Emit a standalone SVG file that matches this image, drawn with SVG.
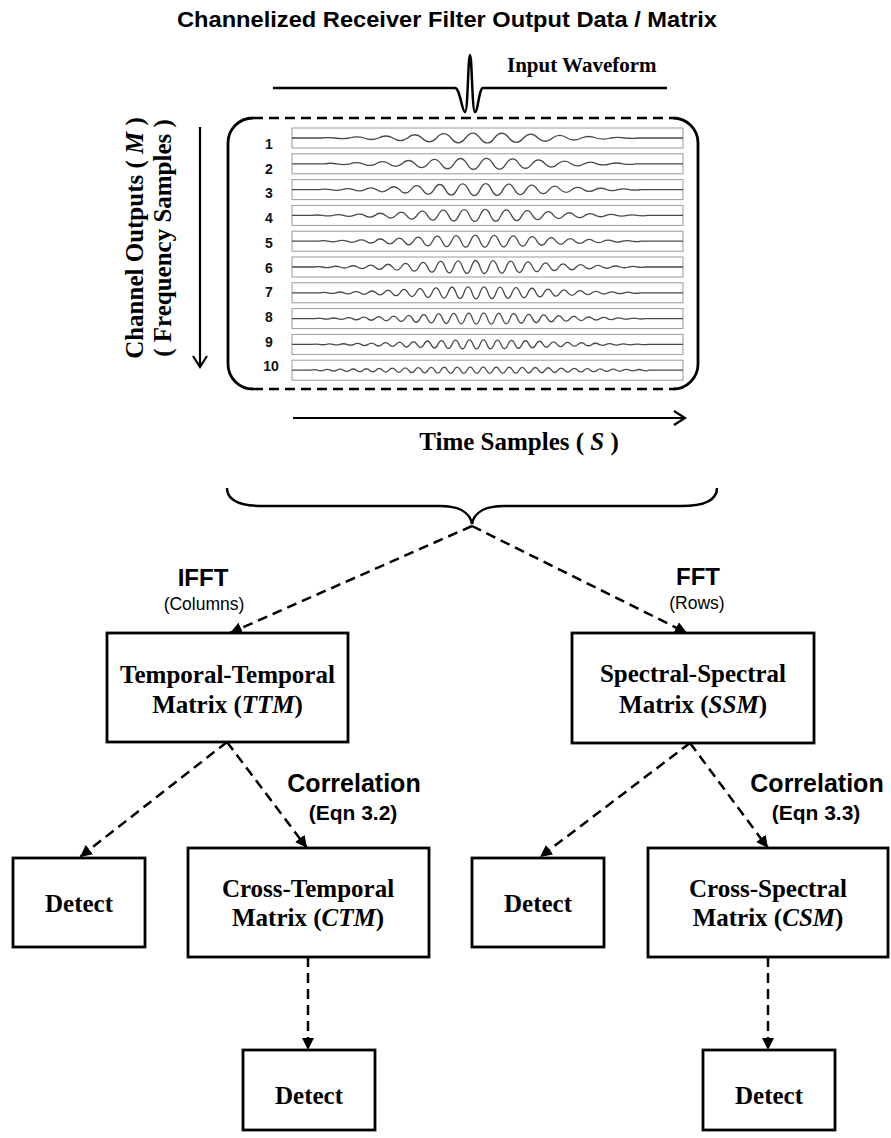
<svg xmlns="http://www.w3.org/2000/svg" width="891" height="1138" viewBox="0 0 891 1138">
<style>
.sans{font-family:"Liberation Sans",Arial,sans-serif;font-weight:bold;fill:#000}
.sansr{font-family:"Liberation Sans",Arial,sans-serif;font-weight:normal;fill:#000}
.serif{font-family:"Liberation Serif","Times New Roman",serif;font-weight:bold;fill:#000}
.box{fill:#fff;stroke:#000;stroke-width:2.8}
.dash{fill:none;stroke:#000;stroke-width:2.5;stroke-dasharray:10,6}
.row{fill:#fff;stroke:#9a9a9a;stroke-width:1}
.wave{fill:none;stroke:#4a4a4a;stroke-width:1.3}
.lbl{font-family:"Liberation Sans",Arial,sans-serif;font-weight:bold;font-size:14px;fill:#111;text-anchor:middle}
.c{text-anchor:middle}
</style>
<defs>
<marker id="ah" markerUnits="userSpaceOnUse" markerWidth="14" markerHeight="12" refX="12" refY="6" orient="auto"><path d="M0,0 L12,6 L0,12 z" fill="#000"/></marker>
<marker id="ch" markerUnits="userSpaceOnUse" markerWidth="16" markerHeight="16" refX="13" refY="8" orient="auto"><path d="M2,1 L13,8 L2,15" fill="none" stroke="#000" stroke-width="2.2"/></marker>
</defs>
<rect width="891" height="1138" fill="#fff"/>

<text id="title" class="sans c" x="447" y="27" font-size="22" textLength="540" lengthAdjust="spacingAndGlyphs">Channelized Receiver Filter Output Data / Matrix</text>

<g id="input-waveform">
<path d="M273,88 H455 C460,88 462,112 465,112 C468,112 468,55 470,55 C472,55 472,112 475,112 C478,112 479,88 483,88 H667" fill="none" stroke="#000" stroke-width="2.5"/>
<text class="serif" x="507" y="72" font-size="21">Input Waveform</text>
</g>

<g id="matrix">
<path d="M253,118 A25,25 0 0 0 228,143 V364 A25,25 0 0 0 253,389 M673,118 A25,25 0 0 1 698,143 V364 A25,25 0 0 1 673,389" fill="none" stroke="#000" stroke-width="2.8"/>
<path d="M253,118 H673 M253,389 H673" class="dash" stroke-width="2.8"/>
<rect class="row" x="292" y="128" width="391" height="20"/>
<rect class="row" x="292" y="153.8" width="391" height="20"/>
<rect class="row" x="292" y="179.6" width="391" height="20"/>
<rect class="row" x="292" y="205.4" width="391" height="20"/>
<rect class="row" x="292" y="231.2" width="391" height="20"/>
<rect class="row" x="292" y="257" width="391" height="20"/>
<rect class="row" x="292" y="282.8" width="391" height="20"/>
<rect class="row" x="292" y="308.6" width="391" height="20"/>
<rect class="row" x="292" y="334.4" width="391" height="20"/>
<rect class="row" x="292" y="360.2" width="391" height="20"/>
<text class="lbl" x="269" y="149">1</text>
<text class="lbl" x="269" y="173.7">2</text>
<text class="lbl" x="269" y="198.4">3</text>
<text class="lbl" x="269" y="223.1">4</text>
<text class="lbl" x="269" y="247.8">5</text>
<text class="lbl" x="269" y="272.5">6</text>
<text class="lbl" x="269" y="297.2">7</text>
<text class="lbl" x="269" y="321.9">8</text>
<text class="lbl" x="269" y="346.6">9</text>
<text class="lbl" x="271" y="371.3">10</text>
<path class="wave" d="M292,138 H320.5 q7.25,-0.9 14.5,0 q7.25,1.4 14.5,0 q7.25,-2.1 14.5,0 q7.25,3 14.5,0 q7.25,-4 14.5,0 q7.25,5.2 14.5,0 q7.25,-6.5 14.5,0 q7.25,7.7 14.5,0 q7.25,-8.7 14.5,0 q7.25,9.5 14.5,0 q7.25,-9.9 14.5,0 q7.25,9.9 14.5,0 q7.25,-9.5 14.5,0 q7.25,8.7 14.5,0 q7.25,-7.7 14.5,0 q7.25,6.5 14.5,0 q7.25,-5.2 14.5,0 q7.25,4 14.5,0 q7.25,-3 14.5,0 q7.25,2.1 14.5,0 q7.25,-1.4 14.5,0 q7.25,0.9 14.5,0 H683"/>
<path class="wave" d="M292,163.8 H324 q6.5,-1.1 13,0 q6.5,1.6 13,0 q6.5,-2.3 13,0 q6.5,3.2 13,0 q6.5,-4.2 13,0 q6.5,5.3 13,0 q6.5,-6.5 13,0 q6.5,7.8 13,0 q6.5,-8.9 13,0 q6.5,9.9 13,0 q6.5,-10.6 13,0 q6.5,11 13,0 q6.5,-11 13,0 q6.5,10.6 13,0 q6.5,-9.9 13,0 q6.5,8.9 13,0 q6.5,-7.8 13,0 q6.5,6.5 13,0 q6.5,-5.3 13,0 q6.5,4.2 13,0 q6.5,-3.2 13,0 q6.5,2.3 13,0 q6.5,-1.6 13,0 q6.5,1.1 13,0 H683"/>
<path class="wave" d="M292,189.6 H319 q5.75,-1 11.5,0 q5.75,1.5 11.5,0 q5.75,-2 11.5,0 q5.75,2.7 11.5,0 q5.75,-3.6 11.5,0 q5.75,4.5 11.5,0 q5.75,-5.6 11.5,0 q5.75,6.8 11.5,0 q5.75,-8 11.5,0 q5.75,9.1 11.5,0 q5.75,-10.2 11.5,0 q5.75,11 11.5,0 q5.75,-11.6 11.5,0 q5.75,12 11.5,0 q5.75,-12 11.5,0 q5.75,11.6 11.5,0 q5.75,-11 11.5,0 q5.75,10.2 11.5,0 q5.75,-9.1 11.5,0 q5.75,8 11.5,0 q5.75,-6.8 11.5,0 q5.75,5.6 11.5,0 q5.75,-4.5 11.5,0 q5.75,3.6 11.5,0 q5.75,-2.7 11.5,0 q5.75,2 11.5,0 q5.75,-1.5 11.5,0 q5.75,1 11.5,0 H683"/>
<path class="wave" d="M292,215.4 H312 q5.25,-0.8 10.5,0 q5.25,1.1 10.5,0 q5.25,-1.5 10.5,0 q5.25,2.1 10.5,0 q5.25,-2.7 10.5,0 q5.25,3.5 10.5,0 q5.25,-4.3 10.5,0 q5.25,5.3 10.5,0 q5.25,-6.4 10.5,0 q5.25,7.5 10.5,0 q5.25,-8.5 10.5,0 q5.25,9.6 10.5,0 q5.25,-10.5 10.5,0 q5.25,11.2 10.5,0 q5.25,-11.7 10.5,0 q5.25,12 10.5,0 q5.25,-12 10.5,0 q5.25,11.7 10.5,0 q5.25,-11.2 10.5,0 q5.25,10.5 10.5,0 q5.25,-9.6 10.5,0 q5.25,8.5 10.5,0 q5.25,-7.5 10.5,0 q5.25,6.4 10.5,0 q5.25,-5.3 10.5,0 q5.25,4.3 10.5,0 q5.25,-3.5 10.5,0 q5.25,2.7 10.5,0 q5.25,-2.1 10.5,0 q5.25,1.5 10.5,0 q5.25,-1.1 10.5,0 q5.25,0.8 10.5,0 H683"/>
<path class="wave" d="M292,241.2 H318.5 q4.75,-1 9.5,0 q4.75,1.3 9.5,0 q4.75,-1.7 9.5,0 q4.75,2.2 9.5,0 q4.75,-2.8 9.5,0 q4.75,3.6 9.5,0 q4.75,-4.3 9.5,0 q4.75,5.2 9.5,0 q4.75,-6.2 9.5,0 q4.75,7.2 9.5,0 q4.75,-8.1 9.5,0 q4.75,9.1 9.5,0 q4.75,-10 9.5,0 q4.75,10.7 9.5,0 q4.75,-11.3 9.5,0 q4.75,11.8 9.5,0 q4.75,-12 9.5,0 q4.75,12 9.5,0 q4.75,-11.8 9.5,0 q4.75,11.3 9.5,0 q4.75,-10.7 9.5,0 q4.75,10 9.5,0 q4.75,-9.1 9.5,0 q4.75,8.1 9.5,0 q4.75,-7.2 9.5,0 q4.75,6.2 9.5,0 q4.75,-5.2 9.5,0 q4.75,4.3 9.5,0 q4.75,-3.6 9.5,0 q4.75,2.8 9.5,0 q4.75,-2.2 9.5,0 q4.75,1.7 9.5,0 q4.75,-1.3 9.5,0 q4.75,1 9.5,0 H683"/>
<path class="wave" d="M292,267 H313.75 q4.375,-0.9 8.75,0 q4.375,1.2 8.75,0 q4.375,-1.5 8.75,0 q4.375,2 8.75,0 q4.375,-2.5 8.75,0 q4.375,3.1 8.75,0 q4.375,-3.8 8.75,0 q4.375,4.6 8.75,0 q4.375,-5.5 8.75,0 q4.375,6.4 8.75,0 q4.375,-7.4 8.75,0 q4.375,8.4 8.75,0 q4.375,-9.3 8.75,0 q4.375,10.3 8.75,0 q4.375,-11.1 8.75,0 q4.375,11.8 8.75,0 q4.375,-12.4 8.75,0 q4.375,12.8 8.75,0 q4.375,-13 8.75,0 q4.375,13 8.75,0 q4.375,-12.8 8.75,0 q4.375,12.4 8.75,0 q4.375,-11.8 8.75,0 q4.375,11.1 8.75,0 q4.375,-10.3 8.75,0 q4.375,9.3 8.75,0 q4.375,-8.4 8.75,0 q4.375,7.4 8.75,0 q4.375,-6.4 8.75,0 q4.375,5.5 8.75,0 q4.375,-4.6 8.75,0 q4.375,3.8 8.75,0 q4.375,-3.1 8.75,0 q4.375,2.5 8.75,0 q4.375,-2 8.75,0 q4.375,1.5 8.75,0 q4.375,-1.2 8.75,0 q4.375,0.9 8.75,0 H683"/>
<path class="wave" d="M292,292.8 H320 q4,-1 8,0 q4,1.3 8,0 q4,-1.6 8,0 q4,2 8,0 q4,-2.5 8,0 q4,3 8,0 q4,-3.6 8,0 q4,4.3 8,0 q4,-5.1 8,0 q4,5.8 8,0 q4,-6.7 8,0 q4,7.5 8,0 q4,-8.3 8,0 q4,9.1 8,0 q4,-9.9 8,0 q4,10.5 8,0 q4,-11.1 8,0 q4,11.5 8,0 q4,-11.8 8,0 q4,12 8,0 q4,-12 8,0 q4,11.8 8,0 q4,-11.5 8,0 q4,11.1 8,0 q4,-10.5 8,0 q4,9.9 8,0 q4,-9.1 8,0 q4,8.3 8,0 q4,-7.5 8,0 q4,6.7 8,0 q4,-5.8 8,0 q4,5.1 8,0 q4,-4.3 8,0 q4,3.6 8,0 q4,-3 8,0 q4,2.5 8,0 q4,-2 8,0 q4,1.6 8,0 q4,-1.3 8,0 q4,1 8,0 H683"/>
<path class="wave" d="M292,318.6 H315 q3.75,-0.8 7.5,0 q3.75,1 7.5,0 q3.75,-1.2 7.5,0 q3.75,1.5 7.5,0 q3.75,-1.9 7.5,0 q3.75,2.3 7.5,0 q3.75,-2.8 7.5,0 q3.75,3.3 7.5,0 q3.75,-3.9 7.5,0 q3.75,4.5 7.5,0 q3.75,-5.1 7.5,0 q3.75,5.8 7.5,0 q3.75,-6.6 7.5,0 q3.75,7.3 7.5,0 q3.75,-8 7.5,0 q3.75,8.6 7.5,0 q3.75,-9.3 7.5,0 q3.75,9.8 7.5,0 q3.75,-10.3 7.5,0 q3.75,10.6 7.5,0 q3.75,-10.9 7.5,0 q3.75,11 7.5,0 q3.75,-11 7.5,0 q3.75,10.9 7.5,0 q3.75,-10.6 7.5,0 q3.75,10.3 7.5,0 q3.75,-9.8 7.5,0 q3.75,9.3 7.5,0 q3.75,-8.6 7.5,0 q3.75,8 7.5,0 q3.75,-7.3 7.5,0 q3.75,6.6 7.5,0 q3.75,-5.8 7.5,0 q3.75,5.1 7.5,0 q3.75,-4.5 7.5,0 q3.75,3.9 7.5,0 q3.75,-3.3 7.5,0 q3.75,2.8 7.5,0 q3.75,-2.3 7.5,0 q3.75,1.9 7.5,0 q3.75,-1.5 7.5,0 q3.75,1.2 7.5,0 q3.75,-1 7.5,0 q3.75,0.8 7.5,0 H683"/>
<path class="wave" d="M292,344.4 H312 q3.5,-0.6 7,0 q3.5,0.7 7,0 q3.5,-0.9 7,0 q3.5,1.1 7,0 q3.5,-1.3 7,0 q3.5,1.6 7,0 q3.5,-1.9 7,0 q3.5,2.3 7,0 q3.5,-2.7 7,0 q3.5,3.2 7,0 q3.5,-3.6 7,0 q3.5,4.1 7,0 q3.5,-4.6 7,0 q3.5,5.2 7,0 q3.5,-5.7 7,0 q3.5,6.3 7,0 q3.5,-6.8 7,0 q3.5,7.3 7,0 q3.5,-7.7 7,0 q3.5,8.1 7,0 q3.5,-8.5 7,0 q3.5,8.7 7,0 q3.5,-8.9 7,0 q3.5,9 7,0 q3.5,-9 7,0 q3.5,8.9 7,0 q3.5,-8.7 7,0 q3.5,8.5 7,0 q3.5,-8.1 7,0 q3.5,7.7 7,0 q3.5,-7.3 7,0 q3.5,6.8 7,0 q3.5,-6.3 7,0 q3.5,5.7 7,0 q3.5,-5.2 7,0 q3.5,4.6 7,0 q3.5,-4.1 7,0 q3.5,3.6 7,0 q3.5,-3.2 7,0 q3.5,2.7 7,0 q3.5,-2.3 7,0 q3.5,1.9 7,0 q3.5,-1.6 7,0 q3.5,1.3 7,0 q3.5,-1.1 7,0 q3.5,0.9 7,0 q3.5,-0.7 7,0 q3.5,0.6 7,0 H683"/>
<path class="wave" d="M292,370.2 H311 q3.25,-1.2 6.5,0 q3.25,1.4 6.5,0 q3.25,-1.5 6.5,0 q3.25,1.7 6.5,0 q3.25,-2 6.5,0 q3.25,2.2 6.5,0 q3.25,-2.4 6.5,0 q3.25,2.7 6.5,0 q3.25,-2.9 6.5,0 q3.25,3.2 6.5,0 q3.25,-3.5 6.5,0 q3.25,3.8 6.5,0 q3.25,-4 6.5,0 q3.25,4.3 6.5,0 q3.25,-4.6 6.5,0 q3.25,4.9 6.5,0 q3.25,-5.1 6.5,0 q3.25,5.4 6.5,0 q3.25,-5.6 6.5,0 q3.25,5.8 6.5,0 q3.25,-6 6.5,0 q3.25,6.2 6.5,0 q3.25,-6.3 6.5,0 q3.25,6.4 6.5,0 q3.25,-6.5 6.5,0 q3.25,6.5 6.5,0 q3.25,-6.5 6.5,0 q3.25,6.5 6.5,0 q3.25,-6.4 6.5,0 q3.25,6.3 6.5,0 q3.25,-6.2 6.5,0 q3.25,6 6.5,0 q3.25,-5.8 6.5,0 q3.25,5.6 6.5,0 q3.25,-5.4 6.5,0 q3.25,5.1 6.5,0 q3.25,-4.9 6.5,0 q3.25,4.6 6.5,0 q3.25,-4.3 6.5,0 q3.25,4 6.5,0 q3.25,-3.8 6.5,0 q3.25,3.5 6.5,0 q3.25,-3.2 6.5,0 q3.25,2.9 6.5,0 q3.25,-2.7 6.5,0 q3.25,2.4 6.5,0 q3.25,-2.2 6.5,0 q3.25,2 6.5,0 q3.25,-1.7 6.5,0 q3.25,1.5 6.5,0 q3.25,-1.4 6.5,0 q3.25,1.2 6.5,0 H683"/>
</g>

<g id="axis-channels">
<line x1="200" y1="127" x2="200" y2="367" stroke="#000" stroke-width="2.2" marker-end="url(#ch)"/>
<text class="serif c" transform="translate(143,238) rotate(-90)" x="0" y="0" font-size="25">Channel Outputs ( <tspan font-style="italic">M</tspan> )</text>
<text class="serif c" transform="translate(171,238) rotate(-90)" x="0" y="0" font-size="25">( Frequency Samples )</text>
</g>

<g id="axis-time">
<line x1="293" y1="418" x2="685" y2="418" stroke="#000" stroke-width="2.2" marker-end="url(#ch)"/>
<text class="serif c" x="519" y="450" font-size="25">Time Samples ( <tspan font-style="italic">S</tspan> )</text>
</g>

<g id="brace">
<path d="M227,488 C227,500 240,506 263,506 H440 C458,506 470,512 472,524 C474,512 486,506 504,506 H681 C704,506 717,500 717,488" fill="none" stroke="#000" stroke-width="2.5"/>
</g>

<g id="connectors">
<path class="dash" d="M472,526 L230,633" marker-end="url(#ah)"/>
<path class="dash" d="M472,526 L687,633" marker-end="url(#ah)"/>
<path class="dash" d="M227,742 L80,857" marker-end="url(#ah)"/>
<path class="dash" d="M227,742 L307,848" marker-end="url(#ah)"/>
<path class="dash" d="M690,743 L540,857" marker-end="url(#ah)"/>
<path class="dash" d="M690,743 L768,848" marker-end="url(#ah)"/>
<path class="dash" d="M308,957 L308,1050" marker-end="url(#ah)"/>
<path class="dash" d="M768,957 L768,1050" marker-end="url(#ah)"/>
<text class="sans c" x="203" y="586" font-size="24">IFFT</text>
<text class="sansr c" x="204" y="610" font-size="17.5">(Columns)</text>
<text class="sans c" x="698" y="585" font-size="24">FFT</text>
<text class="sansr c" x="697" y="609" font-size="17.5">(Rows)</text>
<text class="sans c" x="354" y="792" font-size="25">Correlation</text>
<text class="sans c" x="353" y="820" font-size="21">(Eqn 3.2)</text>
<text class="sans c" x="817" y="792" font-size="25">Correlation</text>
<text class="sans c" x="816" y="820" font-size="21">(Eqn 3.3)</text>
</g>

<g id="ttm">
<rect class="box" x="107" y="633" width="241" height="109"/>
<text class="serif c" x="227.5" y="683" font-size="25">Temporal-Temporal</text>
<text class="serif c" x="227.5" y="713" font-size="25">Matrix (<tspan font-style="italic">TTM</tspan>)</text>
</g>
<g id="ssm">
<rect class="box" x="572" y="633" width="242" height="110"/>
<text class="serif c" x="693" y="682" font-size="25">Spectral-Spectral</text>
<text class="serif c" x="693" y="713" font-size="25">Matrix (<tspan font-style="italic">SSM</tspan>)</text>
</g>
<g id="detect-ttm">
<rect class="box" x="13" y="858" width="132" height="89"/>
<text class="serif c" x="79" y="912" font-size="25">Detect</text>
</g>
<g id="ctm">
<rect class="box" x="188" y="848" width="241" height="109"/>
<text class="serif c" x="308" y="897" font-size="25">Cross-Temporal</text>
<text class="serif c" x="308" y="926" font-size="25">Matrix (<tspan font-style="italic">CTM</tspan>)</text>
</g>
<g id="detect-ssm">
<rect class="box" x="472" y="858" width="132" height="89"/>
<text class="serif c" x="538" y="912" font-size="25">Detect</text>
</g>
<g id="csm">
<rect class="box" x="648" y="848" width="240" height="109"/>
<text class="serif c" x="768" y="897" font-size="25">Cross-Spectral</text>
<text class="serif c" x="768" y="926" font-size="25">Matrix (<tspan font-style="italic">CSM</tspan>)</text>
</g>
<g id="detect-ctm">
<rect class="box" x="243" y="1050" width="132" height="80"/>
<text class="serif c" x="309" y="1104" font-size="25">Detect</text>
</g>
<g id="detect-csm">
<rect class="box" x="703" y="1050" width="132" height="80"/>
<text class="serif c" x="769" y="1104" font-size="25">Detect</text>
</g>
</svg>
